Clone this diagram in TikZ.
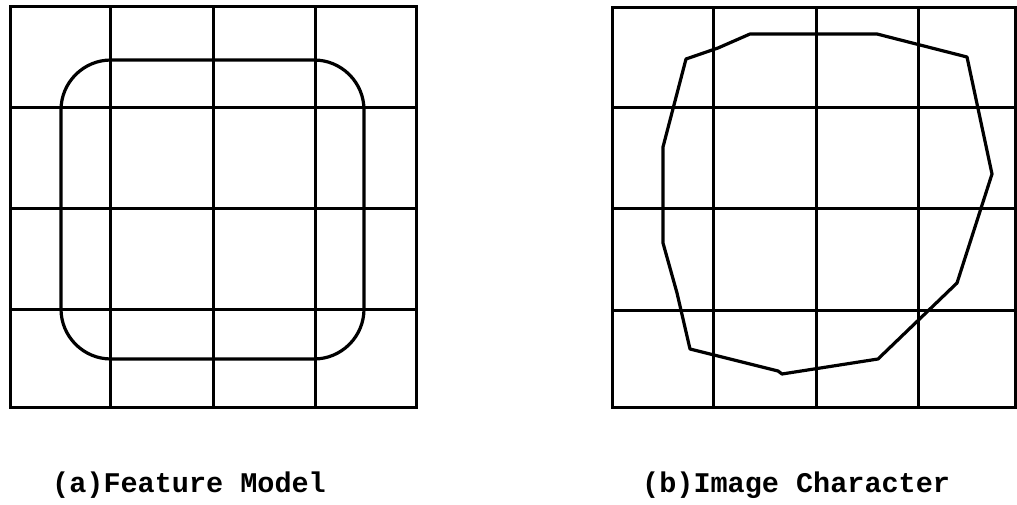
\documentclass[tikz,border=0pt]{standalone}
\usepackage{fontspec}
\setmonofont{Liberation Mono}
\begin{document}
\begin{tikzpicture}[x=1pt,y=-1pt,
  gridline/.style={line width=3pt,line cap=rect},
  outline/.style={line width=3.2pt,line join=round},
  caption/.style={anchor=base west,inner sep=0pt,font=\ttfamily\bfseries\fontsize{28.5}{32}\selectfont}]
\useasboundingbox (0,0) rectangle (1017,505);

% (a) feature model: 4x4 grid with a rounded square
\draw[gridline] (10,7) rectangle (416,407);
\foreach \x in {110,213,315} \draw[gridline] (\x,7) -- (\x,407);
\foreach \y in {108,209,309} \draw[gridline] (10,\y) -- (416,\y);
\draw[outline,rounded corners=50pt] (61,60) rectangle (364,359);

% (b) image character: 4x4 grid with a traced polygon
\draw[gridline] (612,8) rectangle (1015.5,407);
\foreach \x in {713,816,918} \draw[gridline] (\x,8) -- (\x,407);
\foreach \y in {108,209,310} \draw[gridline] (612,\y) -- (1015.5,\y);
\draw[outline] (686,59) -- (718,48) -- (750,34) -- (877,34) -- (967,57)
  -- (992,174) -- (957,283) -- (878,359) -- (782,374) -- (778,371)
  -- (690,349) -- (677,293) -- (663,243) -- (663,147) -- cycle;

\node[caption] (capa) at (52,492) {(a)Feature Model};
\node[caption] (capb) at (642,492) {(b)Image Character};
\end{tikzpicture}
\end{document}
